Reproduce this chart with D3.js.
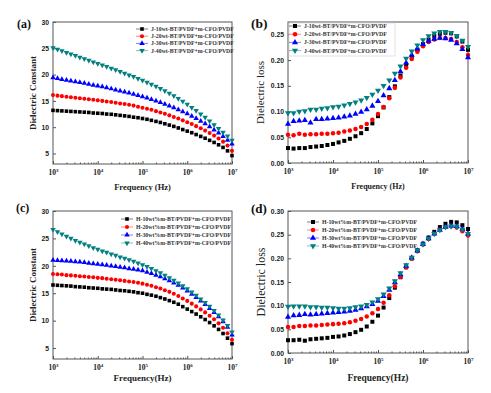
<!DOCTYPE html>
<html>
<head>
<meta charset="utf-8">
<script src="https://cdn.jsdelivr.net/npm/d3@7"></script>
<style>
  body { margin: 0; background: #fff; }
  svg { display: block; }
</style>
</head>
<body>
<svg id="chart" width="491" height="393"></svg>
<script>
// frequency grids (Hz)
const freqA = [1e3, 1.26e3, 1.58e3, 2e3, 2.51e3, 3.16e3, 3.98e3, 5.01e3, 6.31e3, 7.94e3,
  1e4, 1.26e4, 1.58e4, 2e4, 2.51e4, 3.16e4, 3.98e4, 5.01e4, 6.31e4, 7.94e4,
  1e5, 1.26e5, 1.58e5, 2e5, 2.51e5, 3.16e5, 3.98e5, 5.01e5, 6.31e5, 7.94e5,
  1e6, 1.26e6, 1.58e6, 2e6, 2.51e6, 3.16e6, 3.98e6, 5.01e6, 6.31e6, 7.94e6, 1e7];
const freqB = [1e3, 1.33e3, 1.78e3, 2.37e3, 3.16e3, 4.22e3, 5.62e3, 7.5e3,
  1e4, 1.33e4, 1.78e4, 2.37e4, 3.16e4, 4.22e4, 5.62e4, 7.5e4,
  1e5, 1.33e5, 1.78e5, 2.37e5, 3.16e5, 4.22e5, 5.62e5, 7.5e5,
  1e6, 1.33e6, 1.78e6, 2.37e6, 3.16e6, 4.22e6, 5.62e6, 7.5e6, 1e7];

const namesJ = ["J-10wt-BT/PVDF+m-CFO/PVDF", "J-20wt-BT/PVDF+m-CFO/PVDF",
  "J-30wt-BT/PVDF+m-CFO/PVDF", "J-40wt-BT/PVDF+m-CFO/PVDF"];
const namesH = ["H-10wt%m-BT/PVDF+m-CFO/PVDF", "H-20wt%m-BT/PVDF+m-CFO/PVDF",
  "H-30wt%m-BT/PVDF+m-CFO/PVDF", "H-40wt%m-BT/PVDF+m-CFO/PVDF"];

// (a) dielectric constant, J series
const a10 = [13.2, 13.15, 13.1, 13.05, 13.0, 12.95, 12.9, 12.85, 12.8, 12.7, 12.65, 12.6, 12.5, 12.45, 12.35, 12.25, 12.15, 12.05, 11.9, 11.8,
  11.65, 11.5, 11.3, 11.1, 10.9, 10.65, 10.4, 10.15, 9.85, 9.55, 9.25, 8.95, 8.6, 8.25, 7.9, 7.5, 7.1, 6.65, 6.15, 5.5, 4.6];
const a20 = [16.1, 16.0, 15.9, 15.8, 15.7, 15.6, 15.5, 15.4, 15.3, 15.2, 15.1, 15.0, 14.9, 14.8, 14.65, 14.5, 14.4, 14.25, 14.1, 13.9,
  13.7, 13.5, 13.3, 13.05, 12.8, 12.55, 12.25, 11.95, 11.65, 11.3, 10.95, 10.6, 10.2, 9.8, 9.35, 8.9, 8.4, 7.85, 7.25, 6.5, 5.5];
const a30 = [19.4, 19.25, 19.1, 18.95, 18.8, 18.65, 18.5, 18.35, 18.2, 18.0, 17.85, 17.7, 17.5, 17.3, 17.1, 16.9, 16.7, 16.5, 16.3, 16.05,
  15.8, 15.55, 15.3, 15.0, 14.7, 14.4, 14.05, 13.7, 13.35, 12.95, 12.55, 12.1, 11.65, 11.15, 10.65, 10.1, 9.5, 8.9, 8.25, 7.55, 6.8];
const a40 = [25.1, 24.8, 24.5, 24.2, 23.9, 23.6, 23.3, 23.0, 22.7, 22.4, 22.1, 21.8, 21.5, 21.2, 20.9, 20.55, 20.25, 19.9, 19.6, 19.25,
  18.9, 18.55, 18.15, 17.75, 17.35, 16.9, 16.45, 15.95, 15.45, 14.9, 14.35, 13.75, 13.15, 12.5, 11.85, 11.15, 10.45, 9.75, 9.0, 8.3, 7.5];

// (b) dielectric loss, J series
const b10 = [0.029, 0.028, 0.029, 0.029, 0.031, 0.032, 0.033, 0.035, 0.037, 0.040, 0.043, 0.047, 0.052, 0.058, 0.066, 0.077,
  0.091, 0.108, 0.128, 0.149, 0.170, 0.189, 0.206, 0.220, 0.231, 0.240, 0.247, 0.251, 0.253, 0.252, 0.246, 0.236, 0.220];
const b20 = [0.055, 0.054, 0.057, 0.055, 0.056, 0.056, 0.057, 0.057, 0.058, 0.059, 0.061, 0.063, 0.066, 0.070, 0.076, 0.084,
  0.095, 0.109, 0.126, 0.146, 0.166, 0.185, 0.202, 0.216, 0.227, 0.235, 0.240, 0.243, 0.243, 0.241, 0.235, 0.225, 0.210];
const b30 = [0.076, 0.081, 0.082, 0.083, 0.078, 0.085, 0.085, 0.086, 0.087, 0.088, 0.090, 0.092, 0.095, 0.099, 0.104, 0.111,
  0.120, 0.131, 0.145, 0.161, 0.178, 0.195, 0.210, 0.222, 0.231, 0.237, 0.241, 0.243, 0.242, 0.239, 0.232, 0.221, 0.205];
const b40 = [0.097, 0.097, 0.100, 0.101, 0.104, 0.104, 0.106, 0.107, 0.109, 0.110, 0.112, 0.115, 0.118, 0.122, 0.127, 0.133,
  0.141, 0.150, 0.161, 0.174, 0.188, 0.203, 0.217, 0.229, 0.239, 0.247, 0.252, 0.255, 0.255, 0.253, 0.247, 0.238, 0.226];

// (c) dielectric constant, H series
const c10 = [16.5, 16.45, 16.4, 16.35, 16.3, 16.2, 16.15, 16.1, 16.0, 15.95, 15.9, 15.8, 15.75, 15.7, 15.6, 15.5, 15.45, 15.35, 15.25, 15.1,
  15.0, 14.8, 14.65, 14.45, 14.2, 13.95, 13.65, 13.35, 13.0, 12.55, 12.1, 11.65, 11.2, 10.7, 10.2, 9.65, 9.05, 8.4, 7.65, 6.8, 5.8];
const c20 = [18.5, 18.45, 18.4, 18.3, 18.25, 18.2, 18.1, 18.05, 17.95, 17.9, 17.8, 17.75, 17.65, 17.55, 17.45, 17.35, 17.25, 17.15, 17.05, 16.9,
  16.75, 16.55, 16.35, 16.1, 15.85, 15.55, 15.25, 14.9, 14.5, 14.05, 13.6, 13.1, 12.6, 12.05, 11.5, 10.9, 10.25, 9.5, 8.7, 7.7, 6.5];
const c30 = [21.05, 21.0, 20.95, 20.9, 20.85, 20.75, 20.7, 20.6, 20.5, 20.4, 20.3, 20.2, 20.1, 20.0, 19.9, 19.75, 19.65, 19.5, 19.4, 19.25,
  19.1, 18.85, 18.6, 18.3, 18.0, 17.65, 17.3, 16.9, 16.45, 15.95, 15.4, 14.85, 14.25, 13.6, 12.95, 12.25, 11.5, 10.7, 9.8, 8.8, 7.4];
const c40 = [26.6, 26.2, 25.8, 25.4, 25.0, 24.6, 24.3, 23.95, 23.65, 23.3, 23.0, 22.7, 22.45, 22.15, 21.9, 21.6, 21.35, 21.1, 20.8, 20.5,
  20.2, 19.85, 19.5, 19.1, 18.7, 18.25, 17.8, 17.35, 16.85, 16.35, 15.8, 15.2, 14.6, 13.95, 13.3, 12.6, 11.85, 11.0, 10.1, 9.1, 7.9];

// (d) dielectric loss, H series
const d10 = [0.027, 0.027, 0.028, 0.026, 0.029, 0.030, 0.031, 0.032, 0.034, 0.035, 0.037, 0.040, 0.044, 0.049, 0.056, 0.066,
  0.079, 0.096, 0.116, 0.138, 0.160, 0.181, 0.200, 0.217, 0.231, 0.244, 0.256, 0.266, 0.273, 0.277, 0.276, 0.270, 0.262];
const d20 = [0.055, 0.055, 0.057, 0.057, 0.058, 0.058, 0.059, 0.060, 0.061, 0.062, 0.063, 0.065, 0.068, 0.072, 0.077, 0.084,
  0.093, 0.106, 0.122, 0.141, 0.161, 0.181, 0.199, 0.215, 0.229, 0.241, 0.252, 0.261, 0.266, 0.268, 0.265, 0.257, 0.248];
const d30 = [0.076, 0.079, 0.080, 0.082, 0.081, 0.082, 0.083, 0.084, 0.085, 0.086, 0.087, 0.089, 0.091, 0.094, 0.098, 0.103,
  0.110, 0.120, 0.133, 0.149, 0.166, 0.184, 0.201, 0.216, 0.230, 0.242, 0.252, 0.260, 0.266, 0.269, 0.268, 0.262, 0.252];
const d40 = [0.098, 0.099, 0.099, 0.099, 0.097, 0.097, 0.096, 0.096, 0.095, 0.094, 0.094, 0.095, 0.097, 0.099, 0.102, 0.107,
  0.114, 0.124, 0.137, 0.152, 0.169, 0.186, 0.202, 0.217, 0.230, 0.242, 0.252, 0.260, 0.266, 0.268, 0.267, 0.261, 0.252];

const xTicks = [1e3, 1e4, 1e5, 1e6, 1e7];
const constTicks = [5, 10, 15, 20, 25, 30];
const lossTicksB = [0.00, 0.05, 0.10, 0.15, 0.20, 0.25];
const lossTicksD = [0.00, 0.05, 0.10, 0.15, 0.20, 0.25, 0.30];

const colors = ["#000000", "#ff0000", "#0000ff", "#008080"];
const shapes = [d3.symbolSquare, d3.symbolCircle, d3.symbolTriangle, d3.symbolTriangle];
const rotate = [0, 0, 0, 180];

const serif = "'Liberation Serif', 'Times New Roman', serif";
const sans = "'Liberation Sans', Arial, sans-serif";

const panels = [
  { tag: "(a)", freq: freqA, series: [a10, a20, a30, a40], names: namesJ,
    x0: 53, x1: 232, y0: 22, y1: 164, yDomain: [3, 30], yTicks: constTicks, fmt: d3.format("d"),
    ylabel: "Dielectric Constant", yBold: true, ySize: 9, yLabelX: 33,
    xlabel: "Frequency (Hz)", xLabelY: 190, xSize: 8.5,
    tagX: 17, tagY: 28, tagSize: 12,
    leg: { x: 142, y: 29, dy: 7.2, size: 5.8 }, sym: 13, box: false },
  { tag: "(b)", freq: freqB, series: [b10, b20, b30, b40], names: namesJ,
    x0: 288, x1: 468, y0: 22, y1: 163, yDomain: [0, 0.274], yTicks: lossTicksB, fmt: d3.format(".2f"),
    ylabel: "Dielectric loss", yBold: false, ySize: 11, yLabelX: 260,
    xlabel: "Frequency (Hz)", xLabelY: 189, xSize: 8,
    tagX: 251, tagY: 28, tagSize: 13.5,
    leg: { x: 295, y: 26, dy: 8.2, size: 5.8 }, sym: 16, box: true },
  { tag: "(c)", freq: freqA, series: [c10, c20, c30, c40], names: namesH,
    x0: 53, x1: 232, y0: 211, y1: 359, yDomain: [3, 30], yTicks: constTicks, fmt: d3.format("d"),
    ylabel: "Dielectric Constant", yBold: true, ySize: 9, yLabelX: 33,
    xlabel: "Frequency(Hz)", xLabelY: 381, xSize: 9,
    tagX: 16, tagY: 212, tagSize: 12,
    leg: { x: 127, y: 219, dy: 8, size: 5.8 }, sym: 13, box: false },
  { tag: "(d)", freq: freqB, series: [d10, d20, d30, d40], names: namesH,
    x0: 288, x1: 468, y0: 211, y1: 353, yDomain: [0, 0.30], yTicks: lossTicksD, fmt: d3.format(".2f"),
    ylabel: "Dielectric loss", yBold: false, ySize: 12, yLabelX: 261,
    xlabel: "Frequency(Hz)", xLabelY: 381, xSize: 9.5,
    tagX: 251, tagY: 213, tagSize: 13,
    leg: { x: 313, y: 222, dy: 8, size: 5.8 }, sym: 16, box: false }
];

const svg = d3.select("#chart");

function drawPanel(p) {
  const g = svg.append("g");
  const x = d3.scaleLog().domain([1e3, 1e7]).range([p.x0, p.x1]);
  const y = d3.scaleLinear().domain(p.yDomain).range([p.y1, p.y0]);

  // frame
  g.append("rect")
    .attr("x", p.x0).attr("y", p.y0)
    .attr("width", p.x1 - p.x0).attr("height", p.y1 - p.y0)
    .attr("fill", "none").attr("stroke", "#555").attr("stroke-width", 1);

  // x axis: inward ticks, log minors
  const minors = [];
  for (let e = 3; e < 7; e++) for (let k = 2; k < 10; k++) minors.push(k * Math.pow(10, e));
  g.append("g").attr("transform", `translate(0,${p.y1})`)
    .call(d3.axisBottom(x).tickValues(minors).tickSize(-1.5).tickFormat(""))
    .call(s => s.select(".domain").remove())
    .call(s => s.selectAll("line").attr("stroke", "#555"));
  const xa = g.append("g").attr("transform", `translate(0,${p.y1})`)
    .call(d3.axisBottom(x).tickValues(xTicks).tickSize(-3).tickPadding(5).tickFormat(""))
    .call(s => s.select(".domain").remove())
    .call(s => s.selectAll("line").attr("stroke", "#555"));
  xa.selectAll(".tick").append("text")
    .attr("y", 11).attr("text-anchor", "middle")
    .attr("fill", "#222").attr("font-family", serif).attr("font-weight", "bold").attr("font-size", 7.5)
    .call(t => {
      t.append("tspan").text("10");
      t.append("tspan").attr("dy", -3).attr("font-size", 5).text(d => Math.round(Math.log10(d)));
    });

  // y axis
  g.append("g").attr("transform", `translate(${p.x0},0)`)
    .call(d3.axisLeft(y).tickValues(p.yTicks).tickSize(-3).tickPadding(4).tickFormat(p.fmt))
    .call(s => s.select(".domain").remove())
    .call(s => s.selectAll("line").attr("stroke", "#555"))
    .call(s => s.selectAll("text").attr("fill", "#222").attr("font-family", sans)
      .attr("font-weight", "bold").attr("font-size", 6.8));

  // points
  p.series.forEach((vals, i) => {
    g.append("g").selectAll("path")
      .data(vals)
      .enter().append("path")
      .attr("d", d3.symbol().type(shapes[i]).size(p.sym))
      .attr("transform", (d, j) => `translate(${x(p.freq[j])},${y(d)}) rotate(${rotate[i]})`)
      .attr("fill", colors[i]);
  });

  // legend
  const L = p.leg;
  if (p.box) {
    g.append("rect").attr("x", p.x0 + 1).attr("y", p.y0 + 1)
      .attr("width", 106).attr("height", 33)
      .attr("fill", "#fff").attr("stroke", "#ccc").attr("stroke-width", 0.6);
  }
  p.names.forEach((nm, i) => {
    const ly = L.y + i * L.dy;
    g.append("line").attr("x1", L.x - 6).attr("x2", L.x + 6).attr("y1", ly).attr("y2", ly)
      .attr("stroke", colors[i]).attr("stroke-width", 0.5);
    g.append("path")
      .attr("d", d3.symbol().type(shapes[i]).size(p.sym))
      .attr("transform", `translate(${L.x},${ly}) rotate(${rotate[i]})`)
      .attr("fill", colors[i]);
    g.append("text").attr("x", L.x + 9).attr("y", ly + 2)
      .attr("font-family", serif).attr("font-weight", "bold").attr("font-size", L.size)
      .attr("fill", "#333").text(nm);
  });

  // axis labels
  g.append("text")
    .attr("transform", `translate(${p.yLabelX},${(p.y0 + p.y1) / 2}) rotate(-90)`)
    .attr("text-anchor", "middle").attr("dy", "0.35em")
    .attr("font-family", serif).attr("font-weight", p.yBold ? "bold" : "normal")
    .attr("font-size", p.ySize).attr("fill", "#222").text(p.ylabel);
  g.append("text")
    .attr("x", (p.x0 + p.x1) / 2).attr("y", p.xLabelY)
    .attr("text-anchor", "middle")
    .attr("font-family", serif).attr("font-weight", "bold")
    .attr("font-size", p.xSize).attr("fill", "#222").text(p.xlabel);

  // panel tag
  g.append("text").attr("x", p.tagX).attr("y", p.tagY)
    .attr("font-family", serif).attr("font-weight", "bold")
    .attr("font-size", p.tagSize).attr("fill", "#111").text(p.tag);
}

panels.forEach(drawPanel);
</script>
</body>
</html>
